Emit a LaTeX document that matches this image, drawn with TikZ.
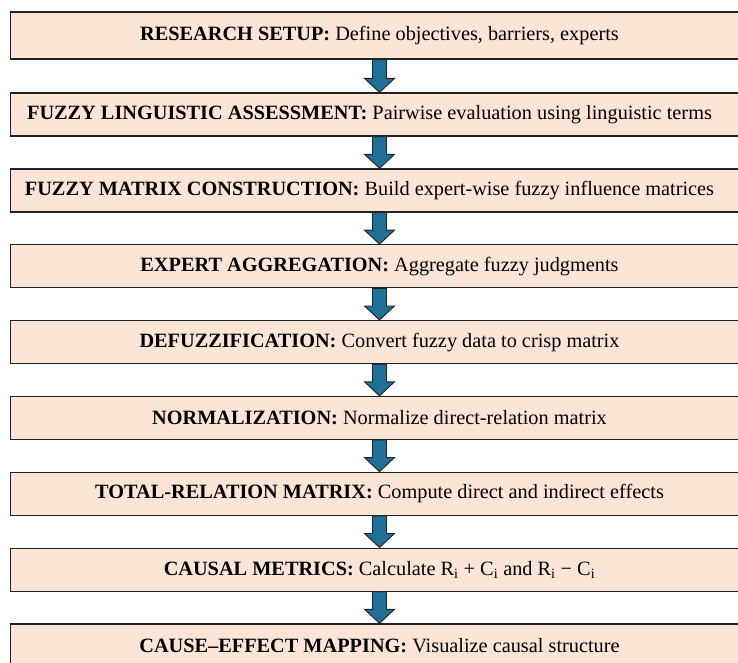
\documentclass[tikz,border=0pt]{standalone}
\usepackage{fontspec}
\setmainfont{Liberation Serif}
\usetikzlibrary{calc}
\definecolor{boxfill}{HTML}{FCE4D6}
\definecolor{arrowfill}{HTML}{1F6F96}
\definecolor{edge}{HTML}{222222}
\tikzset{
  stagebox/.style={draw=edge, line width=1.2pt, fill=boxfill, minimum width=738pt,
    minimum height=43pt, inner sep=0pt, font=\fontsize{20.3}{24}\selectfont, anchor=center},
  flowarrow/.style={draw=edge, line width=0.9pt, fill=arrowfill, line join=miter}
}
\begin{document}
\begin{tikzpicture}[x=1pt,y=-1pt]
\useasboundingbox (0,0) rectangle (738,662);
\clip (0,0) rectangle (738,662);
\node[stagebox, minimum height=47pt] (b1) at (379.5,35.5) {\raisebox{4pt}{\textbf{RESEARCH SETUP:} Define objectives, barriers, experts}};
\node[stagebox] (b2) at (379.5,114.5) {\textbf{FUZZY LINGUISTIC ASSESSMENT:} Pairwise evaluation using linguistic terms\hspace*{20pt}};
\node[stagebox] (b3) at (379.5,190.4) {\textbf{FUZZY MATRIX CONSTRUCTION:} Build expert-wise fuzzy influence matrices\hspace*{20pt}};
\node[stagebox] (b4) at (379.5,266.2) {\textbf{EXPERT AGGREGATION:} Aggregate fuzzy judgments};
\node[stagebox] (b5) at (379.5,342.1) {\textbf{DEFUZZIFICATION:} Convert fuzzy data to crisp matrix};
\node[stagebox] (b6) at (379.5,417.9) {\textbf{NORMALIZATION:} Normalize direct-relation matrix};
\node[stagebox] (b7) at (379.5,493.7) {\textbf{TOTAL-RELATION MATRIX:} Compute direct and indirect effects};
\node[stagebox] (b8) at (379.5,569.6) {\textbf{CAUSAL METRICS:} Calculate R\textsubscript{i} + C\textsubscript{i} and R\textsubscript{i} − C\textsubscript{i}};
\node[stagebox] (b9) at (379.5,645.4) {\textbf{CAUSE–EFFECT MAPPING:} Visualize causal structure};
\foreach \a/\b in {b1/b2,b2/b3,b3/b4,b4/b5,b5/b6,b6/b7,b7/b8,b8/b9}{
  \draw[flowarrow] ($(\a.south)+(-7,0)$) -- ($(\b.north)+(-7,-14)$) -- ($(\b.north)+(-15,-14)$)
    -- (\b.north) -- ($(\b.north)+(15,-14)$) -- ($(\b.north)+(7,-14)$) -- ($(\a.south)+(7,0)$) -- cycle;
}
\end{tikzpicture}
\end{document}
